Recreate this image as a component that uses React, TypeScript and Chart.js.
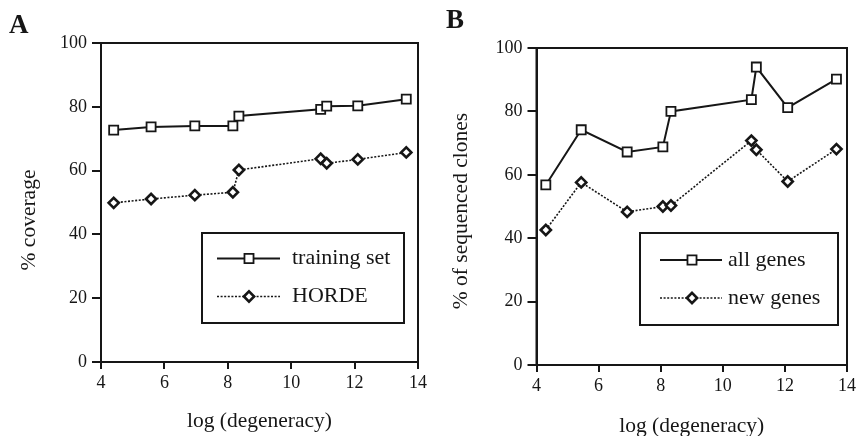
import React, { useEffect, useRef } from 'react';
import { Chart, registerables } from 'chart.js';

Chart.register(...registerables);

// ---- data ----
const degeneracyA = [4.40, 5.58, 6.96, 8.16, 8.35, 10.93, 11.12, 12.10, 13.63];
const trainingSet = [72.7, 73.7, 74.0, 74.0, 77.1, 79.2, 80.2, 80.3, 82.4];
const horde = [49.9, 51.1, 52.3, 53.2, 60.2, 63.7, 62.3, 63.5, 65.7];

const degeneracyB = [4.30, 5.44, 6.92, 8.07, 8.33, 10.92, 11.08, 12.09, 13.66];
const allGenes = [56.8, 74.2, 67.2, 68.8, 80.0, 83.7, 94.0, 81.2, 90.2];
const newGenes = [42.6, 57.6, 48.3, 50.0, 50.3, 70.8, 67.9, 57.9, 68.1];

const xTickValues = [4, 6, 8, 10, 12, 14];
const yTickValues = [0, 20, 40, 60, 80, 100];

const seriesLabelsA = ['training set', 'HORDE'];
const seriesLabelsB = ['all genes', 'new genes'];

const FONT = "'Liberation Serif', 'Times New Roman', Times, serif";
const INK = '#161616';

const toPoints = (xs: number[], ys: number[]) => xs.map((x, i) => ({ x, y: ys[i] }));

const decorPlugin = {
  id: 'panelDecor',
  afterDraw(chart: any) {
    const o = chart.options.plugins.panelDecor;
    if (!o) return;
    const ctx = chart.ctx;
    const ca = chart.chartArea;
    ctx.save();
    // frame
    ctx.strokeStyle = INK;
    ctx.lineWidth = 2;
    ctx.strokeRect(ca.left, ca.top, ca.right - ca.left, ca.bottom - ca.top);
    // panel letter
    ctx.fillStyle = INK;
    ctx.font = `bold 27px ${FONT}`;
    ctx.textAlign = 'left';
    ctx.textBaseline = 'middle';
    ctx.fillText(o.letter, o.letterX, o.letterY);
    // y title
    ctx.save();
    ctx.translate(o.yTitleX, o.yTitleY);
    ctx.rotate(-Math.PI / 2);
    ctx.font = `21.5px ${FONT}`;
    ctx.textAlign = 'center';
    ctx.textBaseline = 'middle';
    ctx.fillText(o.yTitle, 0, 0);
    ctx.restore();
    // legend
    const lg = o.legend;
    ctx.fillStyle = '#ffffff';
    ctx.fillRect(lg.left, lg.top, lg.right - lg.left, lg.bottom - lg.top);
    ctx.strokeStyle = INK;
    ctx.lineWidth = 2;
    ctx.strokeRect(lg.left, lg.top, lg.right - lg.left, lg.bottom - lg.top);
    chart.data.datasets.forEach((ds: any, i: number) => {
      const y = lg.rows[i];
      ctx.save();
      ctx.strokeStyle = INK;
      ctx.lineWidth = ds.borderWidth;
      ctx.setLineDash(ds.borderDash || []);
      ctx.beginPath();
      ctx.moveTo(lg.lineStart, y);
      ctx.lineTo(lg.lineEnd, y);
      ctx.stroke();
      ctx.setLineDash([]);
      ctx.lineWidth = ds.pointBorderWidth;
      ctx.fillStyle = '#ffffff';
      ctx.beginPath();
      const mx = lg.marker;
      if (ds.pointStyle === 'rect') {
        const h = Math.SQRT1_2 * ds.pointRadius;
        ctx.rect(mx - h, y - h, 2 * h, 2 * h);
      } else {
        const r = ds.pointRadius;
        ctx.moveTo(mx - r, y);
        ctx.lineTo(mx, y - r);
        ctx.lineTo(mx + r, y);
        ctx.lineTo(mx, y + r);
        ctx.closePath();
      }
      ctx.fill();
      ctx.stroke();
      ctx.restore();
      ctx.fillStyle = INK;
      ctx.font = `22px ${FONT}`;
      ctx.textAlign = 'left';
      ctx.textBaseline = 'middle';
      ctx.fillText(ds.label, lg.text, y);
    });
    ctx.restore();
  },
};

interface PanelProps {
  xs: number[];
  solid: number[];
  dotted: number[];
  labels: string[];
  width: number;
  yAxisWidth: number;
  xAxisHeight: number;
  padTop: number;
  padRight: number;
  xTitlePadBottom: number;
  decor: any;
}

function Panel(p: PanelProps) {
  const ref = useRef<HTMLCanvasElement>(null);
  useEffect(() => {
    if (!ref.current) return;
    const tickFont = { family: FONT, size: 18 };
    const chart = new Chart(ref.current, {
      type: 'line',
      data: {
        datasets: [
          {
            label: p.labels[0],
            data: toPoints(p.xs, p.solid),
            borderColor: INK,
            borderWidth: 2,
            pointStyle: 'rect',
            pointRadius: 6.4,
            pointHoverRadius: 6.4,
            pointBorderWidth: 1.8,
            pointBorderColor: INK,
            pointBackgroundColor: '#ffffff',
            tension: 0,
          } as any,
          {
            label: p.labels[1],
            data: toPoints(p.xs, p.dotted),
            borderColor: INK,
            borderWidth: 1.6,
            borderDash: [2, 1.6],
            pointStyle: 'rectRot',
            pointRadius: 5.1,
            pointHoverRadius: 5.1,
            pointBorderWidth: 2.6,
            pointBorderColor: INK,
            pointBackgroundColor: '#ffffff',
            tension: 0,
          } as any,
        ],
      },
      options: {
        responsive: false,
        animation: false,
        devicePixelRatio: 1,
        clip: false as any,
        layout: { padding: { top: p.padTop, right: p.padRight, left: 0, bottom: 0 } },
        plugins: {
          legend: { display: false },
          tooltip: { enabled: false },
          panelDecor: p.decor,
        } as any,
        scales: {
          x: {
            type: 'linear',
            min: xTickValues[0],
            max: xTickValues[xTickValues.length - 1],
            afterFit: (s: any) => { s.height = p.xAxisHeight; },
            afterBuildTicks: (s: any) => { s.ticks = xTickValues.map((v) => ({ value: v })); },
            ticks: { font: tickFont, color: INK, padding: 3, maxRotation: 0 },
            grid: { drawOnChartArea: false, drawTicks: true, tickLength: 7, color: INK, lineWidth: 2 },
            border: { display: true, color: INK, width: 2 },
            title: {
              display: true,
              text: 'log (degeneracy)',
              color: INK,
              font: { family: FONT, size: 21.5, lineHeight: 1 },
              padding: { top: 0, bottom: p.xTitlePadBottom },
            },
          },
          y: {
            type: 'linear',
            min: yTickValues[0],
            max: yTickValues[yTickValues.length - 1],
            afterFit: (s: any) => { s.width = p.yAxisWidth; },
            afterBuildTicks: (s: any) => { s.ticks = yTickValues.map((v) => ({ value: v })); },
            ticks: { font: tickFont, color: INK, padding: 5 },
            grid: { drawOnChartArea: false, drawTicks: true, tickLength: 9, color: INK, lineWidth: 2 },
            border: { display: true, color: INK, width: 2 },
          },
        },
      } as any,
      plugins: [decorPlugin],
    });
    return () => chart.destroy();
  }, []);
  return <canvas ref={ref} width={p.width} height={436} style={{ display: 'block' }} />;
}

export default function App() {
  return (
    <div style={{ position: 'absolute', left: 0, top: 0, width: 859, height: 436, display: 'flex', background: '#fff' }}>
      <Panel
        xs={degeneracyA}
        solid={trainingSet}
        dotted={horde}
        labels={seriesLabelsA}
        width={430}
        yAxisWidth={101}
        xAxisHeight={74}
        padTop={43}
        padRight={12}
        xTitlePadBottom={3.5}
        decor={{
          letter: 'A',
          letterX: 9,
          letterY: 26,
          yTitle: '% coverage',
          yTitleX: 29,
          yTitleY: 220,
          legend: { left: 202, top: 233, right: 404, bottom: 323, rows: [258.5, 296.5], lineStart: 217, lineEnd: 280, marker: 249, text: 292 },
        }}
      />
      <Panel
        xs={degeneracyB}
        solid={allGenes}
        dotted={newGenes}
        labels={seriesLabelsB}
        width={429}
        yAxisWidth={106.5}
        xAxisHeight={71}
        padTop={48}
        padRight={8}
        xTitlePadBottom={-1.5}
        decor={{
          letter: 'B',
          letterX: 16,
          letterY: 21,
          yTitle: '% of sequenced clones',
          yTitleX: 31,
          yTitleY: 211,
          legend: { left: 210, top: 233, right: 408, bottom: 325, rows: [260, 298], lineStart: 230, lineEnd: 292, marker: 262, text: 298 },
        }}
      />
    </div>
  );
}
